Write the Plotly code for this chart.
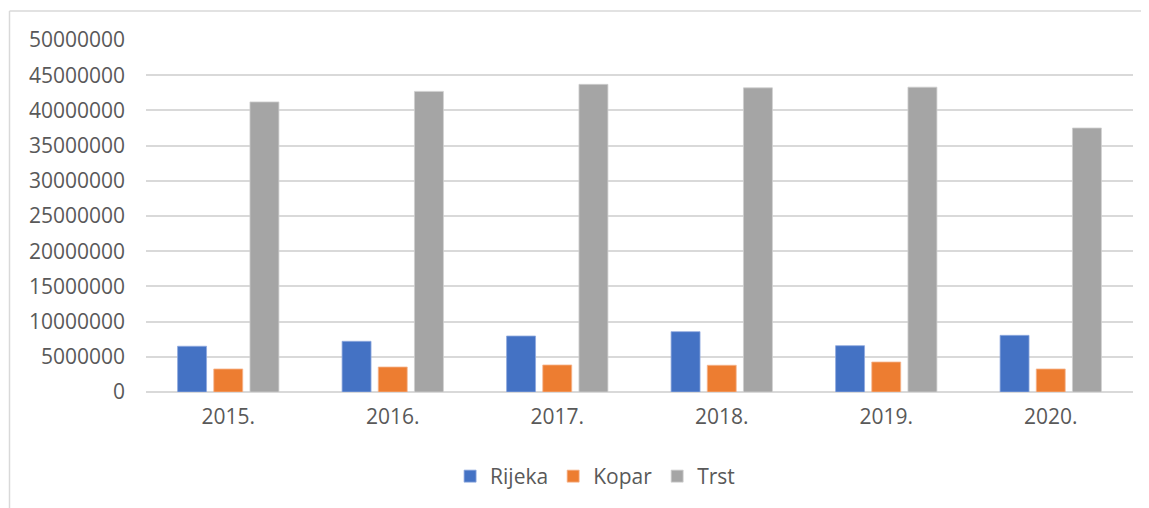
import plotly.graph_objects as go

years = ['2015.', '2016.', '2017.', '2018.', '2019.', '2020.']
rijeka = [6500000, 7200000, 7950000, 8570000, 6580000, 8050000]
kopar = [3270000, 3550000, 3840000, 3800000, 4260000, 3270000]
trst = [41200000, 42700000, 43700000, 43200000, 43300000, 37500000]

# page body has an 8px margin, so the figure is a bit smaller than the window
W, H = 1141, 500
L, T = 138, 32
pw, ph = 987, 352
R, B = W - L - pw, H - T - ph

font = dict(family='Open Sans', size=21, color='#595959')

fig = go.Figure()
fig.add_bar(x=years, y=rijeka, name='Rijeka', marker=dict(color='#4472c4', line=dict(color='#8fa9de', width=0.8)))
fig.add_bar(x=years, y=kopar, name='Kopar', marker=dict(color='#ed7d31', line=dict(color='#f5b58f', width=0.8)))
fig.add_bar(x=years, y=trst, name='Trst', marker=dict(color='#a5a5a5', line=dict(color='#cfcfcf', width=0.8)))

# chart area border (only top and left edges visible in the picture)
bx = (1.5 - L) / pw
by = (H - B - 3) / ph
fig.add_shape(type='line', xref='paper', yref='paper', x0=bx, x1=1.2, y0=by, y1=by,
              line=dict(color='#d9d9d9', width=1.5))
fig.add_shape(type='line', xref='paper', yref='paper', x0=bx, x1=bx, y0=by, y1=-1,
              line=dict(color='#d9d9d9', width=1.5))

fig.update_layout(
    width=W, height=H,
    margin=dict(l=L, r=R, t=T, b=B, autoexpand=False),
    paper_bgcolor='white', plot_bgcolor='white',
    font=font,
    barmode='group', bargap=0.34, bargroupgap=0.2,
    showlegend=True,
    legend=dict(orientation='h', x=0.455, xanchor='center', y=-0.24, yanchor='middle',
                font=font, itemwidth=30),
    xaxis=dict(showgrid=False, ticks='', showline=False, tickfont=font, ticklabelstandoff=10),
    yaxis=dict(range=[0, 50000000], dtick=5000000, tickformat='d', showgrid=True,
               gridcolor='#d9d9d9', gridwidth=1.5, zeroline=True, zerolinecolor='#d9d9d9',
               zerolinewidth=1.5, ticks='', tickfont=font, ticklabelstandoff=20),
)

fig.write_html('out.html')
